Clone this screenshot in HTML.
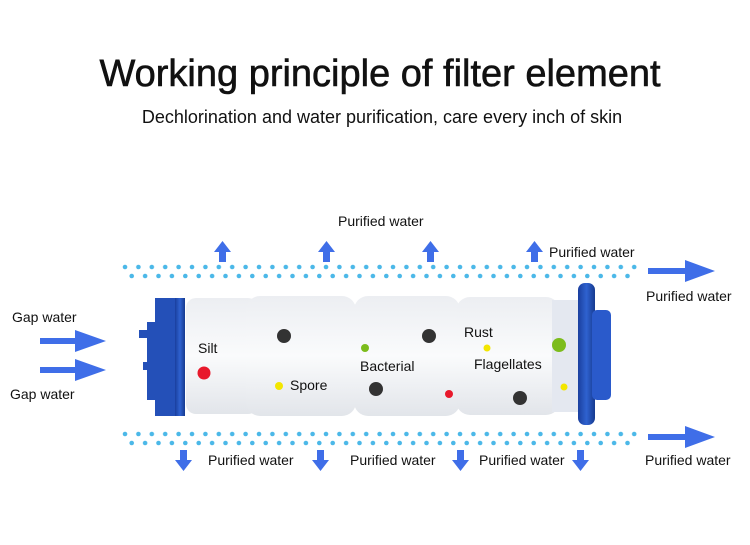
<!DOCTYPE html>
<html><head><meta charset="utf-8"><style>
body{margin:0;background:#fff}
svg{display:block}
text{font-family:"Liberation Sans",sans-serif;fill:#111}
</style></head><body>
<svg width="750" height="545" viewBox="0 0 750 545" xmlns="http://www.w3.org/2000/svg">
<defs>
<pattern id="d1" x="122" y="264" width="13.4" height="20" patternUnits="userSpaceOnUse">
<circle cx="3" cy="3" r="2.3" fill="#4bb8e8"/><circle cx="9.7" cy="12" r="2.3" fill="#4bb8e8"/>
</pattern>
<pattern id="d2" x="122" y="431" width="13.4" height="20" patternUnits="userSpaceOnUse">
<circle cx="3" cy="3" r="2.3" fill="#4bb8e8"/><circle cx="9.7" cy="12" r="2.3" fill="#4bb8e8"/>
</pattern>
<linearGradient id="wg" x1="0" y1="0" x2="0" y2="1">
<stop offset="0" stop-color="#eceef2"/><stop offset="0.5" stop-color="#fafbfc"/><stop offset="1" stop-color="#e2e5ea"/>
</linearGradient>
<linearGradient id="bg" x1="0" y1="0" x2="1" y2="0">
<stop offset="0" stop-color="#1a3f9e"/><stop offset="0.5" stop-color="#2f62d0"/><stop offset="1" stop-color="#163a8f"/>
</linearGradient>
</defs>
<text x="380" y="86" font-size="38" text-anchor="middle" stroke="#111" stroke-width="0.6">Working principle of filter element</text>
<text x="382" y="123" font-size="18" text-anchor="middle">Dechlorination and water purification, care every inch of skin</text>

<rect x="122" y="264" width="515" height="17" fill="url(#d1)"/>
<rect x="122" y="431" width="515" height="17" fill="url(#d2)"/>

<g fill="#3f6ee8">
<path d="M219 262h7v-10h5l-8.5-11-8.5 11h5z"/>
<path d="M323 262h7v-10h5l-8.5-11-8.5 11h5z"/>
<path d="M427 262h7v-10h5l-8.5-11-8.5 11h5z"/>
<path d="M531 262h7v-10h5l-8.5-11-8.5 11h5z"/>
<path d="M180 450h7v10h5l-8.5 11-8.5-11h5z"/>
<path d="M317 450h7v10h5l-8.5 11-8.5-11h5z"/>
<path d="M457 450h7v10h5l-8.5 11-8.5-11h5z"/>
<path d="M577 450h7v10h5l-8.5 11-8.5-11h5z"/>
<path d="M40 338h35v-8l31 11-31 11v-8h-35z"/>
<path d="M40 367h35v-8l31 11-31 11v-8h-35z"/>
<path d="M648 268h37v-8l30 11-30 11v-8h-37z"/>
<path d="M648 434h37v-8l30 11-30 11v-8h-37z"/>
</g>

<rect x="186" y="298" width="72" height="116" rx="10" fill="url(#wg)"/>
<rect x="246" y="296" width="110" height="120" rx="14" fill="url(#wg)"/>
<rect x="354" y="296" width="106" height="120" rx="14" fill="url(#wg)"/>
<rect x="456" y="297" width="104" height="118" rx="14" fill="url(#wg)"/>
<rect x="552" y="300" width="32" height="112" fill="#e4e8f0"/>
<path d="M155 298h30v118h-30v-16h-8v-30h-4v-8h4v-24h-8v-8h8v-8h8z" fill="#2450b8"/>
<rect x="175" y="298" width="10" height="118" fill="url(#bg)"/>
<rect x="578" y="283" width="17" height="142" rx="7" fill="url(#bg)"/>
<rect x="592" y="310" width="19" height="90" rx="5" fill="#2a5acb"/>

<circle cx="204" cy="373" r="6.5" fill="#e8192c"/>
<circle cx="284" cy="336" r="7" fill="#333"/>
<circle cx="279" cy="386" r="4" fill="#f3e600"/>
<circle cx="365" cy="348" r="4" fill="#7cbc1c"/>
<circle cx="429" cy="336" r="7" fill="#333"/>
<circle cx="376" cy="389" r="7" fill="#333"/>
<circle cx="449" cy="394" r="4" fill="#e8192c"/>
<circle cx="487" cy="348" r="3.5" fill="#f3e600"/>
<circle cx="559" cy="345" r="7" fill="#7cbc1c"/>
<circle cx="520" cy="398" r="7" fill="#333"/>
<circle cx="564" cy="387" r="3.5" fill="#f3e600"/>

<g font-size="14">
<text x="198" y="353">Silt</text>
<text x="290" y="390">Spore</text>
<text x="360" y="371">Bacterial</text>
<text x="464" y="337">Rust</text>
<text x="474" y="369">Flagellates</text>
<text x="338" y="226">Purified water</text>
<text x="549" y="257">Purified water</text>
<text x="646" y="301">Purified water</text>
<text x="12" y="322">Gap water</text>
<text x="10" y="399">Gap water</text>
<text x="208" y="465">Purified water</text>
<text x="350" y="465">Purified water</text>
<text x="479" y="465">Purified water</text>
<text x="645" y="465">Purified water</text>
</g>
</svg>
</body></html>
